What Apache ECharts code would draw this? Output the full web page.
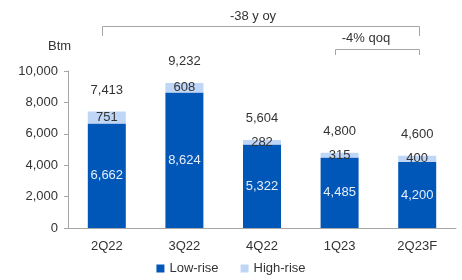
<!DOCTYPE html>
<html>
<head>
<meta charset="utf-8">
<script src="https://cdn.jsdelivr.net/npm/echarts@6/dist/echarts.min.js"></script>
<style>
  html, body { margin: 0; padding: 0; background: #fff; }
  #chart { width: 462px; height: 280px; }
</style>
</head>
<body>
<div id="chart"></div>
<script>
var categories = ['2Q22', '3Q22', '4Q22', '1Q23', '2Q23F'];
var lowRise = [6662, 8624, 5322, 4485, 4200];
var highRise = [751, 608, 282, 315, 400];
var totals = [7413, 9232, 5604, 4800, 4600];
var yTicks = [0, 2000, 4000, 6000, 8000, 10000];

var FONT = '"Liberation Sans Narrow", "Liberation Sans", Arial, sans-serif';
var DARK = '#0157B8';
var LIGHT = '#BFD6F6';
var GREY = '#A6A6A6';

var myChart = echarts.init(document.getElementById('chart'));

function fmt(v) {
    return v.toString().replace(/\B(?=(\d{3})+(?!\d))/g, ',');
}

var option = {
    animation: false,
    textStyle: { fontFamily: FONT },
    grid: { left: 68, right: 6, top: 71, bottom: 52, containLabel: false },
    legend: {
        bottom: 0,
        left: 'center',
        itemWidth: 8,
        itemHeight: 8,
        itemGap: 22,
        icon: 'rect',
        textStyle: { fontFamily: FONT, fontSize: 13, color: '#333' },
        data: ['Low-rise', 'High-rise']
    },
    xAxis: {
        type: 'category',
        data: categories,
        axisLine: { lineStyle: { color: GREY } },
        axisTick: { show: false },
        axisLabel: { fontFamily: FONT, fontSize: 13, color: '#333', margin: 12 }
    },
    yAxis: {
        type: 'value',
        min: 0,
        max: yTicks[yTicks.length - 1],
        interval: 2000,
        splitLine: { show: false },
        axisLine: { show: true, lineStyle: { color: GREY } },
        axisTick: { show: true, length: 4, lineStyle: { color: GREY } },
        axisLabel: {
            fontFamily: FONT, fontSize: 13, color: '#333', margin: 10,
            formatter: function(v) { return fmt(v); }
        }
    },
    graphic: [
        { type: 'text', left: 48, top: 40, style: { text: 'Btm', font: '13px ' + FONT, fill: '#333' } },
        { type: 'polyline', shape: { points: [[102.5, 36], [102.5, 26.5], [419.5, 26.5], [419.5, 36]] },
          style: { stroke: GREY, lineWidth: 1, fill: null } },
        { type: 'text', x: 253, y: 16, style: { text: '-38 y oy', font: '13px ' + FONT, fill: '#333', align: 'center', verticalAlign: 'middle' } },
        { type: 'polyline', shape: { points: [[335.5, 55], [335.5, 49.5], [419.5, 49.5], [419.5, 55]] },
          style: { stroke: GREY, lineWidth: 1, fill: null } },
        { type: 'text', x: 366, y: 38, style: { text: '-4% qoq', font: '13px ' + FONT, fill: '#333', align: 'center', verticalAlign: 'middle' } }
    ],
    series: [
        {
            name: 'Low-rise',
            type: 'bar',
            stack: 'total',
            barWidth: 38,
            itemStyle: { color: DARK },
            label: {
                show: true, position: 'inside', fontFamily: FONT, fontSize: 13, color: '#E6EEFA',
                formatter: function(p) { return fmt(p.value); }
            },
            data: lowRise
        },
        {
            name: 'High-rise',
            type: 'bar',
            stack: 'total',
            barWidth: 38,
            itemStyle: { color: LIGHT },
            label: {
                show: true, position: 'inside', fontFamily: FONT, fontSize: 13, color: '#333',
                formatter: function(p) { return fmt(p.value); }
            },
            labelLayout: { hideOverlap: false },
            data: highRise
        },
        {
            name: 'Total',
            type: 'scatter',
            symbol: 'circle',
            symbolSize: 2,
            itemStyle: { color: 'rgba(0,0,0,0)', opacity: 1 },
            label: {
                show: true, position: 'top', distance: 14, fontFamily: FONT, fontSize: 13, color: '#333', opacity: 1,
                formatter: function(p) { return fmt(p.value); }
            },
            z: 5,
            data: totals
        }
    ]
};

myChart.setOption(option);
</script>
</body>
</html>
